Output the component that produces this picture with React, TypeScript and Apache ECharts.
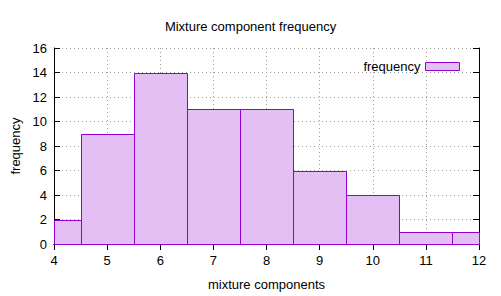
import React, { useEffect, useRef } from "react";
import * as echarts from "echarts";

const title = "Mixture component frequency";
const xName = "mixture components";
const yName = "frequency";
const seriesName = "frequency";
const components = [4, 5, 6, 7, 8, 9, 10, 11, 12];
const counts = [2, 9, 14, 11, 11, 6, 4, 1, 1];

const FONT = "Liberation Sans";
const FILL = "#e4bff4";
const EDGE = "#9400d3";
const FS = 13;

export default function App() {
  const ref = useRef<HTMLDivElement>(null);
  useEffect(() => {
    if (!ref.current) return;
    const chart = echarts.init(ref.current, undefined, { renderer: "svg" });
    const data = components.map((c, i) => [c, counts[i]]);
    const gridLine = { show: true, lineStyle: { color: "#a0a0a0", type: [1, 3] as any, width: 1 } };
    const axisLine = { show: true, lineStyle: { color: "#000", width: 1 } };
    const tick = { show: true, inside: true, length: 6, lineStyle: { color: "#000" } };
    chart.setOption({
      animation: false,
      backgroundColor: "#fff",
      textStyle: { fontFamily: FONT },
      title: {
        text: title,
        left: "center",
        top: 15,
        textStyle: { fontFamily: FONT, fontSize: FS, fontWeight: "normal", color: "#000" },
      },
      legend: {
        show: true,
        data: [seriesName],
        right: 36,
        top: 55,
        align: "right",
        itemWidth: 34,
        itemHeight: 8,
        itemGap: 8,
        icon: "rect",
        itemStyle: { color: FILL, borderColor: EDGE, borderWidth: 1 },
        textStyle: { fontFamily: FONT, fontSize: FS, color: "#000" },
      },
      grid: { left: 54, right: 22, top: 48, bottom: 52, containLabel: false, outerBoundsMode: "none" },
      xAxis: [
        {
          type: "value",
          min: 4,
          max: 12,
          interval: 1,
          name: xName,
          nameLocation: "middle",
          nameGap: 34,
          nameTextStyle: { fontFamily: FONT, fontSize: FS, color: "#000" },
          axisLine,
          axisTick: tick,
          axisLabel: { color: "#000", fontFamily: FONT, fontSize: FS, margin: 10 },
          splitLine: gridLine,
        },
        {
          type: "value",
          position: "top",
          min: 4,
          max: 12,
          interval: 1,
          axisLine,
          axisTick: tick,
          axisLabel: { show: false },
          splitLine: { show: false },
        },
      ],
      yAxis: [
        {
          type: "value",
          min: 0,
          max: 16,
          interval: 2,
          name: yName,
          nameLocation: "middle",
          nameGap: 32,
          nameTextStyle: { fontFamily: FONT, fontSize: FS, color: "#000" },
          axisLine,
          axisTick: tick,
          axisLabel: { color: "#000", fontFamily: FONT, fontSize: FS, margin: 7 },
          splitLine: gridLine,
        },
        {
          type: "value",
          position: "right",
          min: 0,
          max: 16,
          interval: 2,
          axisLine,
          axisTick: tick,
          axisLabel: { show: false },
          splitLine: { show: false },
        },
      ],
      series: [
        {
          name: seriesName,
          type: "custom",
          xAxisIndex: 0,
          yAxisIndex: 0,
          itemStyle: { color: FILL, borderColor: EDGE, borderWidth: 1 },
          encode: { x: 0, y: 1 },
          data,
          renderItem: (params: any, api: any) => {
            const x = api.value(0);
            const y = api.value(1);
            const p0 = api.coord([x - 0.5, y]);
            const p1 = api.coord([x + 0.5, 0]);
            const cs = params.coordSys;
            const rect = echarts.graphic.clipRectByRect(
              { x: p0[0], y: p0[1], width: p1[0] - p0[0], height: p1[1] - p0[1] },
              { x: cs.x, y: cs.y, width: cs.width, height: cs.height }
            );
            if (!rect) return null;
            const x0 = Math.round(rect.x) + 0.5;
            const y0 = Math.round(rect.y) + 0.5;
            const x1 = Math.round(rect.x + rect.width) + 0.5;
            const y1 = Math.round(rect.y + rect.height) + 0.5;
            return {
              type: "rect",
              shape: { x: x0, y: y0, width: x1 - x0, height: y1 - y0 },
              style: { fill: FILL, stroke: EDGE, lineWidth: 1 },
            };
          },
        },
      ],
    });
    return () => chart.dispose();
  }, []);
  return <div ref={ref} style={{ width: 501, height: 296, position: "absolute", left: 0, top: 0 }} />;
}
